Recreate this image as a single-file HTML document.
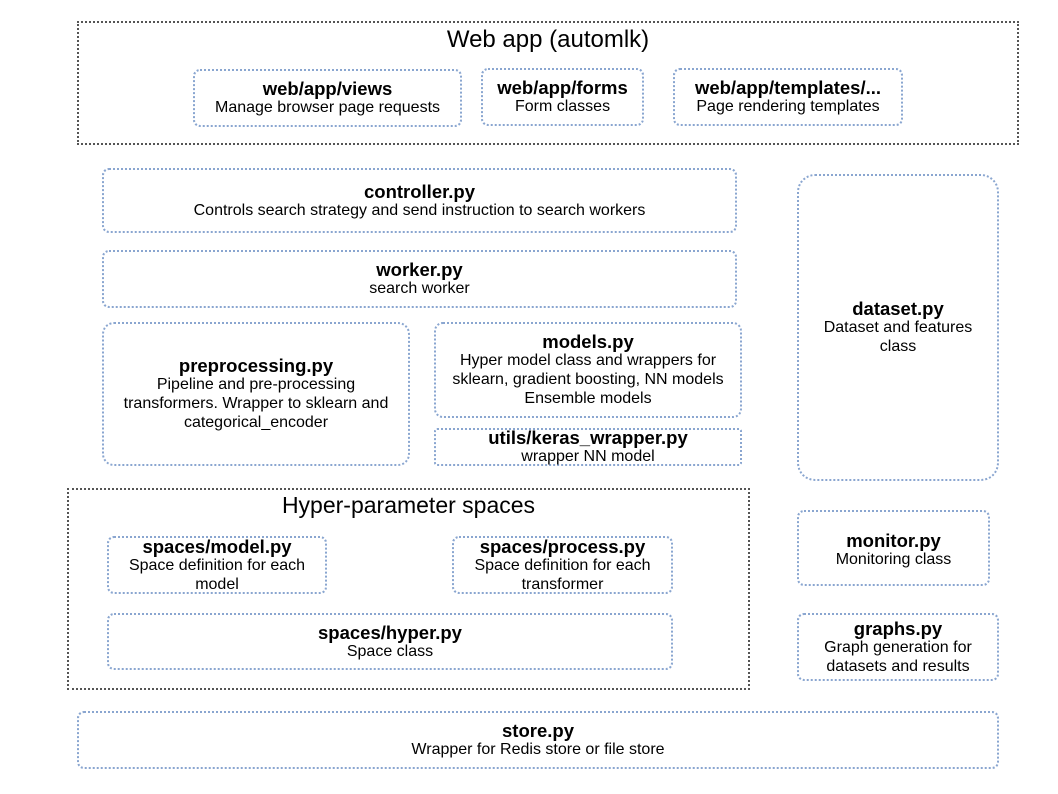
<!DOCTYPE html>
<html><head><meta charset="utf-8"><style>
html,body{margin:0;padding:0;background:#fff;}
body{width:1058px;height:794px;position:relative;overflow:hidden;font-family:"Liberation Sans",sans-serif;color:#000;}
.b{position:absolute;box-sizing:border-box;border:2px dotted #8aa6d0;border-radius:7px;display:flex;flex-direction:column;justify-content:center;align-items:center;text-align:center;font-size:16px;line-height:19px;white-space:nowrap;}
.b b{font-size:18.5px;}
.g{position:absolute;box-sizing:border-box;border:2px dotted #555;}
.t{position:absolute;text-align:center;font-size:24px;}
</style></head><body>
<div class="g" style="left:77px;top:21px;width:942px;height:124px"></div>
<div class="t" style="left:77px;top:26px;width:942px">Web app (automlk)</div>
<div class="b" style="left:193px;top:69px;width:269px;height:58px"><b>web/app/views</b>Manage browser page requests</div>
<div class="b" style="left:481px;top:68px;width:163px;height:58px;justify-content:flex-start;padding-top:8px"><b>web/app/forms</b>Form classes</div>
<div class="b" style="left:673px;top:68px;width:230px;height:58px;justify-content:flex-start;padding-top:8px"><b>web/app/templates/...</b>Page rendering templates</div>

<div class="b" style="left:102px;top:168px;width:635px;height:65px"><b>controller.py</b>Controls search strategy and send instruction to search workers</div>
<div class="b" style="left:102px;top:250px;width:635px;height:58px"><b>worker.py</b>search worker</div>
<div class="b" style="left:797px;top:174px;width:202px;height:307px;border-radius:18px"><b>dataset.py</b>Dataset and features<br>class</div>
<div class="b" style="left:102px;top:322px;width:308px;height:144px;border-radius:12px"><b>preprocessing.py</b>Pipeline and pre-processing<br>transformers. Wrapper to sklearn and<br>categorical_encoder</div>
<div class="b" style="left:434px;top:322px;width:308px;height:96px;border-radius:9px"><b>models.py</b>Hyper model class and wrappers for<br>sklearn, gradient boosting, NN models<br>Ensemble models</div>
<div class="b" style="left:434px;top:428px;width:308px;height:38px;border-radius:3px"><b>utils/keras_wrapper.py</b>wrapper NN model</div>

<div class="g" style="left:67px;top:488px;width:683px;height:202px"></div>
<div class="t" style="left:67px;top:492px;width:683px;font-size:23px">Hyper-parameter spaces</div>
<div class="b" style="left:107px;top:536px;width:220px;height:58px"><b>spaces/model.py</b>Space definition for each<br>model</div>
<div class="b" style="left:452px;top:536px;width:221px;height:58px"><b>spaces/process.py</b>Space definition for each<br>transformer</div>
<div class="b" style="left:107px;top:613px;width:566px;height:57px"><b>spaces/hyper.py</b>Space class</div>

<div class="b" style="left:797px;top:510px;width:193px;height:76px;justify-content:flex-start;padding-top:19px"><b>monitor.py</b>Monitoring class</div>
<div class="b" style="left:797px;top:613px;width:202px;height:68px"><b>graphs.py</b>Graph generation for<br>datasets and results</div>
<div class="b" style="left:77px;top:711px;width:922px;height:58px"><b>store.py</b>Wrapper for Redis store or file store</div>
</body></html>
